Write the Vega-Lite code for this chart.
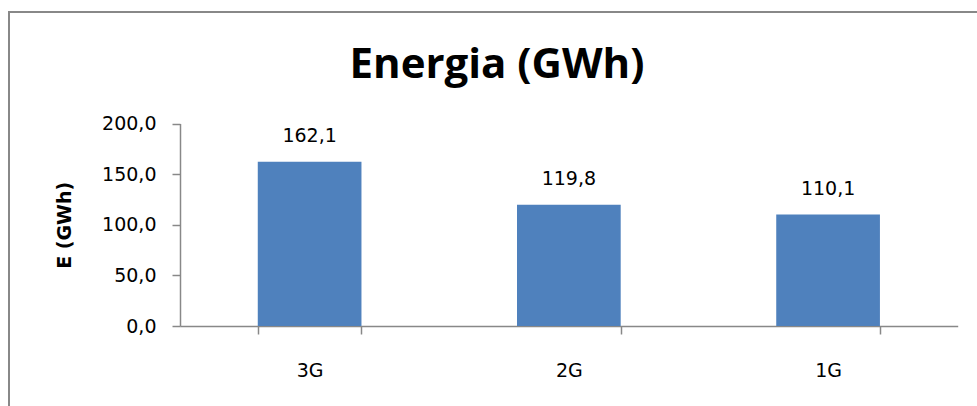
{
  "$schema": "https://vega.github.io/schema/vega-lite/v6.json",
  "autosize": "none",
  "width": 976,
  "height": 400,
  "padding": {"left": 9, "top": 12, "right": 0, "bottom": 0},
  "background": "white",
  "title": {
    "text": "Energia (GWh)",
    "font": "Open Sans",
    "fontSize": 42,
    "fontWeight": "bold",
    "color": "#000000",
    "anchor": "middle",
    "frame": "group",
    "baseline": "alphabetic",
    "offset": 0,
    "dy": 108
  },
  "config": {
    "locale": {
      "number": {"decimal": ",", "thousands": ".", "grouping": [3], "currency": ["", " €"]}
    },
    "view": {"stroke": "#888888", "strokeWidth": 2},
    "font": "DejaVu Sans"
  },
  "data": {
    "values": [
      {"tipo": "3G", "energia": 162.1},
      {"tipo": "2G", "energia": 119.8},
      {"tipo": "1G", "energia": 110.1}
    ]
  },
  "encoding": {
    "x": {
      "field": "tipo",
      "type": "nominal",
      "sort": null,
      "scale": {"range": [171, 948.7], "paddingInner": 0.6, "paddingOuter": 0.3},
      "axis": {
        "title": null,
        "offset": -86,
        "domainColor": "#888888",
        "domainWidth": 1.5,
        "tickColor": "#888888",
        "tickWidth": 1.5,
        "tickSize": 8,
        "tickBand": "extent",
        "labelAngle": 0,
        "labelFont": "DejaVu Sans",
        "labelFontSize": 19,
        "labelColor": "#000000",
        "labelBaseline": "alphabetic",
        "labelPadding": 42.5,
        "grid": false
      }
    },
    "y": {
      "field": "energia",
      "type": "quantitative",
      "scale": {"domain": [0, 200], "range": [314, 111.5], "nice": false},
      "axis": {
        "title": "E (GWh)",
        "titleFont": "DejaVu Sans",
        "titleFontSize": 19,
        "titleFontWeight": "bold",
        "titleColor": "#000000",
        "titlePadding": 27,
        "offset": -171,
        "values": [0, 50, 100, 150, 200],
        "format": ".1f",
        "domainColor": "#888888",
        "domainWidth": 1.5,
        "tickColor": "#888888",
        "tickWidth": 1.5,
        "tickSize": 8,
        "labelFont": "DejaVu Sans",
        "labelFontSize": 19,
        "labelColor": "#000000",
        "labelPadding": 16,
        "grid": false
      }
    }
  },
  "layer": [
    {"mark": {"type": "bar", "color": "#4F81BD"}},
    {
      "mark": {
        "type": "text",
        "font": "DejaVu Sans",
        "fontSize": 19,
        "color": "#000000",
        "baseline": "alphabetic",
        "dy": -19.5
      },
      "encoding": {"text": {"field": "energia", "type": "quantitative", "format": ".1f"}}
    }
  ]
}
